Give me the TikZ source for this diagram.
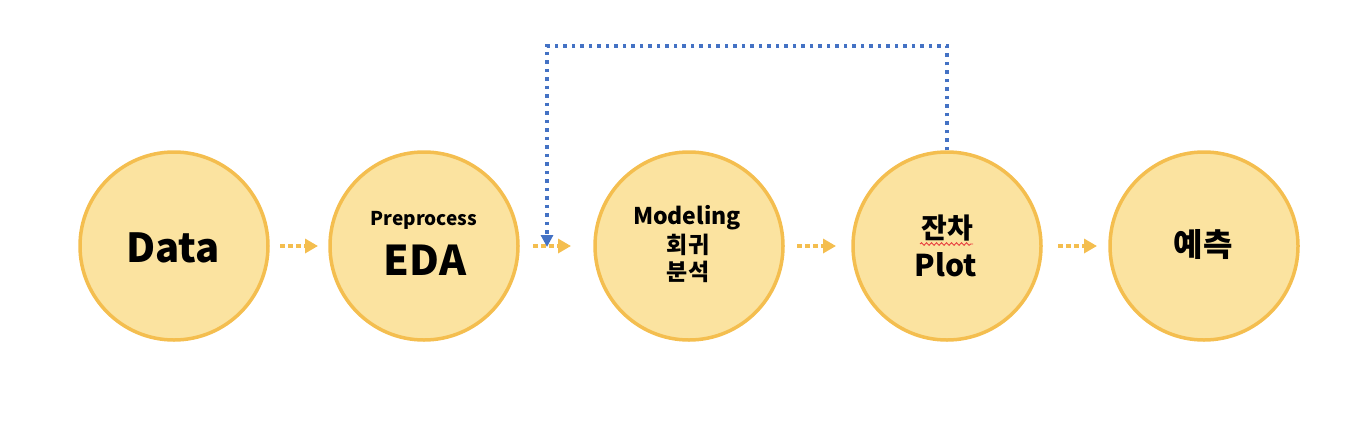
\documentclass[tikz,border=0pt]{standalone}
\usepackage{fontspec}
\setmainfont{Noto Sans CJK KR}
\usetikzlibrary{arrows.meta,decorations.pathmorphing}
\definecolor{cfill}{HTML}{FBE3A0}
\definecolor{cborder}{HTML}{F4BE4F}
\definecolor{cblue}{HTML}{4472C4}
\definecolor{cred}{HTML}{E84040}
\tikzset{
  stage/.style={circle,draw=cborder,fill=cfill,line width=3.5pt,minimum size=188pt,inner sep=0pt},
  lbl/.style={font=\bfseries,text=black,inner sep=0pt,anchor=center},
  flow/.style={draw=cborder,line width=4pt,dash pattern=on 4.5pt off 3.5pt,-{Triangle[length=13pt,width=14pt]}},
  loopback/.style={draw=cblue,line width=3.5pt,dash pattern=on 3.5pt off 5pt,-{Triangle[length=12pt,width=12pt]}},
}
\begin{document}
\begin{tikzpicture}[x=1pt,y=-1pt]
\useasboundingbox (0,0) rectangle (1364,426);
\node[stage] (c1) at (174,246) {};
\node[stage] (c2) at (424,246) {};
\node[stage] (c3) at (689,246) {};
\node[stage] (c4) at (947,246) {};
\node[stage] (c5) at (1204,246) {};
\node[lbl,font=\bfseries\fontsize{40}{44}\selectfont] (t1) at (173,248) {Data};
\node[lbl,font=\bfseries\fontsize{19}{22}\selectfont] (t2a) at (424,220) {Preprocess};
\node[lbl,font=\bfseries\fontsize{41}{44}\selectfont] (t2b) at (425,260) {EDA};
\node[lbl,font=\bfseries\fontsize{23}{26}\selectfont] (t3a) at (687,218) {Modeling};
\node[lbl,font=\bfseries\fontsize{23}{26}\selectfont] (t3b) at (688,245) {회귀};
\node[lbl,font=\bfseries\fontsize{23}{26}\selectfont] (t3c) at (688,272) {분석};
\node[lbl,font=\bfseries\fontsize{28}{30}\selectfont] (t4a) at (947,228) {잔차};
\node[lbl,font=\bfseries\fontsize{30}{32}\selectfont] (t4b) at (946,265) {Plot};
\node[lbl,font=\bfseries\fontsize{32}{34}\selectfont] (t5) at (1203,245) {예측};
\coordinate (w1) at (920,244);
\coordinate (w2) at (973,244);
\draw[cred,line width=0.9pt,decorate,decoration={snake,amplitude=1.3pt,segment length=5pt}] (w1) -- (w2);
\coordinate (a1s) at (280,246); \coordinate (a1e) at (318,246);
\coordinate (a2s) at (533,246); \coordinate (a2e) at (571,246);
\coordinate (a3s) at (797,246); \coordinate (a3e) at (836,246);
\coordinate (a4s) at (1058,246); \coordinate (a4e) at (1097,246);
\draw[flow] (a1s) -- (a1e);
\draw[flow] (a2s) -- (a2e);
\draw[flow] (a3s) -- (a3e);
\draw[flow] (a4s) -- (a4e);
\coordinate (bt) at (547,247);
\draw[loopback] (c4.north) |- (547,46) -- (bt);
\end{tikzpicture}
\end{document}
